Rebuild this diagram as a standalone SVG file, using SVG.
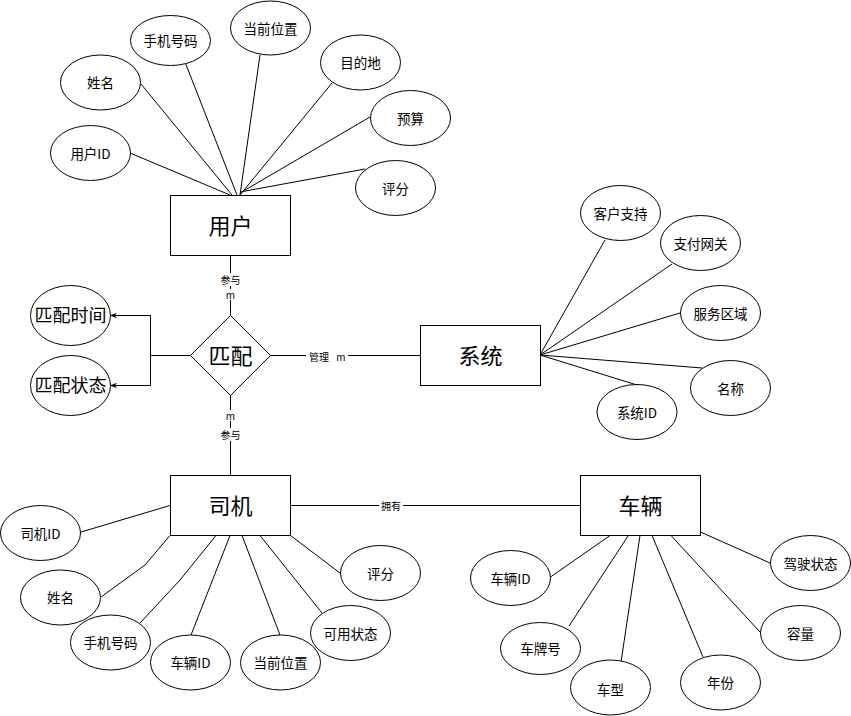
<svg xmlns="http://www.w3.org/2000/svg" width="851" height="716" viewBox="0 0 851 716">
<defs>
<style>
.ent{fill:#fff;stroke:#000;stroke-width:1}
.att{fill:#fff;stroke:#000;stroke-width:1}
.ln{fill:none;stroke:#000;stroke-width:1}
text{font-family:"Noto Sans CJK SC","Liberation Sans",sans-serif;fill:#000;text-anchor:middle;dominant-baseline:central}
.t-ent{font-size:22px}
.t-att{font-size:13.5px}
.t-big{font-size:18px}
.t-lbl{font-size:10px}
.bg{fill:#fff}
</style>
<marker id="arr" viewBox="0 0 10 10" refX="10" refY="5" markerWidth="7" markerHeight="7" orient="auto">
<path d="M0,1 L10,5 L0,9 L3,5 Z" fill="#000"/>
</marker>
</defs>
<rect width="851" height="716" fill="#fff"/>

<g id="connectors">
<!-- user attributes -->
<line class="ln" x1="130" y1="153" x2="230" y2="195"/>
<line class="ln" x1="141" y1="84" x2="232" y2="195"/>
<line class="ln" x1="185" y1="62" x2="237" y2="195"/>
<line class="ln" x1="260" y1="55" x2="240" y2="195"/>
<line class="ln" x1="332" y1="83" x2="240" y2="195"/>
<line class="ln" x1="370" y1="117" x2="240" y2="193"/>
<line class="ln" x1="365" y1="169" x2="240" y2="192"/>
<!-- user - diamond -->
<line class="ln" x1="230.5" y1="255.5" x2="230.5" y2="315"/>
<!-- diamond - driver -->
<line class="ln" x1="230.5" y1="395" x2="230.5" y2="475.5"/>
<!-- diamond - system -->
<line class="ln" x1="270" y1="355.5" x2="420.5" y2="355.5"/>
<!-- diamond attributes -->
<path class="ln" d="M190,355.5 H150.5 V315.5 H110" marker-end="url(#arr)"/>
<path class="ln" d="M150.5,355.5 V385.5 H110" marker-end="url(#arr)"/>
<!-- system attributes -->
<line class="ln" x1="605" y1="240" x2="540" y2="355"/>
<line class="ln" x1="672" y1="264" x2="540" y2="355"/>
<line class="ln" x1="680" y1="313" x2="540" y2="355"/>
<line class="ln" x1="702" y1="368" x2="540" y2="355"/>
<line class="ln" x1="637" y1="385" x2="540" y2="355"/>
<!-- driver - vehicle -->
<line class="ln" x1="290.5" y1="505.5" x2="580.5" y2="505.5"/>
<!-- driver attributes -->
<line class="ln" x1="81" y1="532" x2="170" y2="505.5"/>
<polyline class="ln" points="101,597 145,565 170,535.5"/>
<polyline class="ln" points="140,623 180,580 218,533"/>
<line class="ln" x1="191" y1="635" x2="230" y2="535.5"/>
<line class="ln" x1="280" y1="635" x2="242" y2="535.5"/>
<line class="ln" x1="322" y1="613" x2="260" y2="535.5"/>
<line class="ln" x1="340" y1="573" x2="290.5" y2="535.5"/>
<!-- vehicle attributes -->
<line class="ln" x1="550.5" y1="577" x2="610" y2="535.5"/>
<line class="ln" x1="569" y1="626" x2="630" y2="533"/>
<line class="ln" x1="621" y1="662" x2="640" y2="535.5"/>
<line class="ln" x1="703" y1="657" x2="651" y2="533"/>
<line class="ln" x1="760" y1="632" x2="671" y2="535.5"/>
<line class="ln" x1="770" y1="563" x2="700.5" y2="532"/>
<!-- labels -->
<rect class="bg" x="219" y="273" width="23" height="13"/>
<text class="t-lbl" x="230.5" y="279.5">参与</text>
<rect class="bg" x="224" y="289" width="13" height="11"/>
<text class="t-lbl" x="230.5" y="294.5">m</text>
<rect class="bg" x="224" y="410" width="13" height="11"/>
<text class="t-lbl" x="230.5" y="415">m</text>
<rect class="bg" x="219" y="428" width="23" height="13"/>
<text class="t-lbl" x="230.5" y="434.5">参与</text>
<rect class="bg" x="306" y="350" width="42" height="13"/>
<text class="t-lbl" x="319" y="356.5">管理</text>
<text class="t-lbl" x="341" y="356.5">m</text>
<rect class="bg" x="379" y="499" width="24" height="13"/>
<text class="t-lbl" x="391" y="505.5">拥有</text>
</g>

<!-- entities -->
<g id="user"><rect class="ent" x="170.5" y="195.5" width="120" height="60"/><text class="t-ent" x="230.5" y="223.5">用户</text></g>
<g id="match"><polygon class="ent" points="230.5,315.5 270.5,355.5 230.5,395.5 190.5,355.5"/><text class="t-ent" x="230.5" y="353.5">匹配</text></g>
<g id="system"><rect class="ent" x="420.5" y="325.5" width="120" height="60"/><text class="t-ent" x="480.5" y="353.5">系统</text></g>
<g id="driver"><rect class="ent" x="170.5" y="475.5" width="120" height="60"/><text class="t-ent" x="230.5" y="503.5">司机</text></g>
<g id="vehicle"><rect class="ent" x="580.5" y="475.5" width="120" height="60"/><text class="t-ent" x="640.5" y="503.5">车辆</text></g>

<!-- match attributes -->
<g id="match-time"><ellipse class="att" cx="70.5" cy="315.5" rx="40" ry="30"/><text class="t-big" x="70.5" y="314">匹配时间</text></g>
<g id="match-status"><ellipse class="att" cx="70.5" cy="385.5" rx="40" ry="30"/><text class="t-big" x="70.5" y="384">匹配状态</text></g>

<!-- user attributes -->
<g id="u-id"><ellipse class="att" cx="90.5" cy="153" rx="40" ry="27.5"/><text class="t-att" x="90.5" y="152.5">用户ID</text></g>
<g id="u-name"><ellipse class="att" cx="100.5" cy="82.5" rx="40" ry="27.5"/><text class="t-att" x="100.5" y="82">姓名</text></g>
<g id="u-phone"><ellipse class="att" cx="170.5" cy="40.5" rx="40" ry="25"/><text class="t-att" x="170.5" y="40">手机号码</text></g>
<g id="u-loc"><ellipse class="att" cx="270.5" cy="28" rx="40" ry="27"/><text class="t-att" x="270.5" y="27.5">当前位置</text></g>
<g id="u-dest"><ellipse class="att" cx="360.5" cy="62.5" rx="40" ry="27.5"/><text class="t-att" x="360.5" y="62">目的地</text></g>
<g id="u-budget"><ellipse class="att" cx="410.5" cy="118" rx="40" ry="27.5"/><text class="t-att" x="410.5" y="117.5">预算</text></g>
<g id="u-rating"><ellipse class="att" cx="395.5" cy="188" rx="40" ry="27.5"/><text class="t-att" x="395.5" y="187.5">评分</text></g>

<!-- system attributes -->
<g id="s-support"><ellipse class="att" cx="620.5" cy="213" rx="40" ry="27.5"/><text class="t-att" x="620.5" y="212.5">客户支持</text></g>
<g id="s-pay"><ellipse class="att" cx="700.5" cy="243" rx="40" ry="27.5"/><text class="t-att" x="700.5" y="242.5">支付网关</text></g>
<g id="s-area"><ellipse class="att" cx="720.5" cy="313" rx="40" ry="27.5"/><text class="t-att" x="720.5" y="312.5">服务区域</text></g>
<g id="s-name"><ellipse class="att" cx="730.5" cy="388" rx="40" ry="27.5"/><text class="t-att" x="730.5" y="387.5">名称</text></g>
<g id="s-id"><ellipse class="att" cx="637" cy="412" rx="40" ry="27.5"/><text class="t-att" x="637" y="411.5">系统ID</text></g>

<!-- driver attributes -->
<g id="d-id"><ellipse class="att" cx="40.5" cy="533" rx="40" ry="27.5"/><text class="t-att" x="40.5" y="532.5">司机ID</text></g>
<g id="d-name"><ellipse class="att" cx="60.5" cy="597.5" rx="40" ry="27.5"/><text class="t-att" x="60.5" y="597">姓名</text></g>
<g id="d-phone"><ellipse class="att" cx="110.5" cy="642.5" rx="40" ry="27.5"/><text class="t-att" x="110.5" y="642">手机号码</text></g>
<g id="d-vid"><ellipse class="att" cx="190.5" cy="662.5" rx="40" ry="27.5"/><text class="t-att" x="190.5" y="662">车辆ID</text></g>
<g id="d-loc"><ellipse class="att" cx="280.5" cy="662.5" rx="40" ry="27.5"/><text class="t-att" x="280.5" y="662">当前位置</text></g>
<g id="d-avail"><ellipse class="att" cx="350.5" cy="633" rx="40" ry="27.5"/><text class="t-att" x="350.5" y="632.5">可用状态</text></g>
<g id="d-rating"><ellipse class="att" cx="380.5" cy="573" rx="40" ry="27.5"/><text class="t-att" x="380.5" y="572.5">评分</text></g>

<!-- vehicle attributes -->
<g id="v-id"><ellipse class="att" cx="510.5" cy="578" rx="40" ry="27.5"/><text class="t-att" x="510.5" y="577.5">车辆ID</text></g>
<g id="v-plate"><ellipse class="att" cx="540.5" cy="648.5" rx="40" ry="26"/><text class="t-att" x="540.5" y="648">车牌号</text></g>
<g id="v-type"><ellipse class="att" cx="610.5" cy="687.5" rx="40" ry="27.5"/><text class="t-att" x="610.5" y="688.5">车型</text></g>
<g id="v-year"><ellipse class="att" cx="720.5" cy="682.5" rx="40" ry="27.5"/><text class="t-att" x="720.5" y="682">年份</text></g>
<g id="v-cap"><ellipse class="att" cx="800.5" cy="633" rx="40" ry="27.5"/><text class="t-att" x="800.5" y="632.5">容量</text></g>
<g id="v-drive"><ellipse class="att" cx="810.5" cy="563" rx="40" ry="27.5"/><text class="t-att" x="810.5" y="562.5">驾驶状态</text></g>
</svg>
